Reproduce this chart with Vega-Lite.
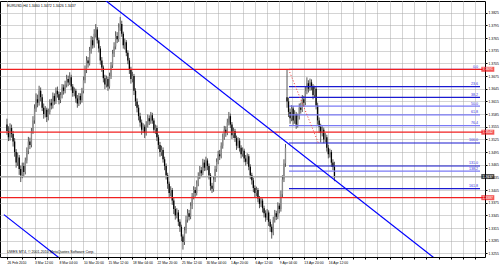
{
"$schema":"https://vega.github.io/schema/vega-lite/v6.json",
"width":485,"height":256,
"autosize":{"type":"none"},
"padding":{"left":0,"top":1,"right":15,"bottom":9},
"background":"white",
"config":{"view":{"stroke":"#000","strokeWidth":1},"font":"Liberation Sans","axis":{"labelOverlap":false,"labelFontSize":3.4,"labelColor":"#000","tickColor":"#000","tickSize":2,"domain":false,"gridDash":[1,1],"gridColor":"#a8a8a8","title":null}},
"resolve":{"axis":{"x":"independent","y":"independent"}},
"datasets":{
"bars":[
{"i":0,"o":1.3560,"h":1.3574,"l":1.3536,"c":1.3545},
{"i":1,"o":1.3545,"h":1.3556,"l":1.3521,"c":1.3530},
{"i":2,"o":1.3530,"h":1.3563,"l":1.3522,"c":1.3552},
{"i":3,"o":1.3552,"h":1.3560,"l":1.3529,"c":1.3538},
{"i":4,"o":1.3538,"h":1.3545,"l":1.3508,"c":1.3520},
{"i":5,"o":1.3520,"h":1.3528,"l":1.3484,"c":1.3495},
{"i":6,"o":1.3495,"h":1.3502,"l":1.3458,"c":1.3470},
{"i":7,"o":1.3470,"h":1.3494,"l":1.3462,"c":1.3482},
{"i":8,"o":1.3482,"h":1.3488,"l":1.3441,"c":1.3455},
{"i":9,"o":1.3455,"h":1.3463,"l":1.3424,"c":1.3440},
{"i":10,"o":1.3440,"h":1.3470,"l":1.3433,"c":1.3462},
{"i":11,"o":1.3462,"h":1.3470,"l":1.3438,"c":1.3448},
{"i":12,"o":1.3448,"h":1.3482,"l":1.3442,"c":1.3475},
{"i":13,"o":1.3475,"h":1.3506,"l":1.3468,"c":1.3498},
{"i":14,"o":1.3498,"h":1.3531,"l":1.3490,"c":1.3520},
{"i":15,"o":1.3520,"h":1.3529,"l":1.3502,"c":1.3512},
{"i":16,"o":1.3512,"h":1.3552,"l":1.3506,"c":1.3545},
{"i":17,"o":1.3545,"h":1.3580,"l":1.3538,"c":1.3570},
{"i":18,"o":1.3570,"h":1.3608,"l":1.3562,"c":1.3598},
{"i":19,"o":1.3598,"h":1.3634,"l":1.3590,"c":1.3620},
{"i":20,"o":1.3620,"h":1.3631,"l":1.3601,"c":1.3612},
{"i":21,"o":1.3612,"h":1.3652,"l":1.3605,"c":1.3640},
{"i":22,"o":1.3640,"h":1.3648,"l":1.3615,"c":1.3625},
{"i":23,"o":1.3625,"h":1.3632,"l":1.3592,"c":1.3600},
{"i":24,"o":1.3600,"h":1.3610,"l":1.3574,"c":1.3585},
{"i":25,"o":1.3585,"h":1.3604,"l":1.3577,"c":1.3595},
{"i":26,"o":1.3595,"h":1.3600,"l":1.3566,"c":1.3578},
{"i":27,"o":1.3578,"h":1.3598,"l":1.3570,"c":1.3590},
{"i":28,"o":1.3590,"h":1.3620,"l":1.3584,"c":1.3612},
{"i":29,"o":1.3612,"h":1.3621,"l":1.3596,"c":1.3605},
{"i":30,"o":1.3605,"h":1.3636,"l":1.3598,"c":1.3628},
{"i":31,"o":1.3628,"h":1.3634,"l":1.3607,"c":1.3615},
{"i":32,"o":1.3615,"h":1.3648,"l":1.3609,"c":1.3640},
{"i":33,"o":1.3640,"h":1.3650,"l":1.3624,"c":1.3632},
{"i":34,"o":1.3632,"h":1.3638,"l":1.3608,"c":1.3618},
{"i":35,"o":1.3618,"h":1.3637,"l":1.3611,"c":1.3630},
{"i":36,"o":1.3630,"h":1.3656,"l":1.3622,"c":1.3648},
{"i":37,"o":1.3648,"h":1.3655,"l":1.3631,"c":1.3640},
{"i":38,"o":1.3640,"h":1.3664,"l":1.3634,"c":1.3655},
{"i":39,"o":1.3655,"h":1.3678,"l":1.3648,"c":1.3668},
{"i":40,"o":1.3668,"h":1.3676,"l":1.3651,"c":1.3660},
{"i":41,"o":1.3660,"h":1.3684,"l":1.3654,"c":1.3672},
{"i":42,"o":1.3672,"h":1.3678,"l":1.3641,"c":1.3650},
{"i":43,"o":1.3650,"h":1.3656,"l":1.3626,"c":1.3635},
{"i":44,"o":1.3635,"h":1.3648,"l":1.3627,"c":1.3640},
{"i":45,"o":1.3640,"h":1.3645,"l":1.3612,"c":1.3622},
{"i":46,"o":1.3622,"h":1.3630,"l":1.3600,"c":1.3610},
{"i":47,"o":1.3610,"h":1.3635,"l":1.3604,"c":1.3628},
{"i":48,"o":1.3628,"h":1.3634,"l":1.3608,"c":1.3618},
{"i":49,"o":1.3618,"h":1.3647,"l":1.3612,"c":1.3640},
{"i":50,"o":1.3640,"h":1.3674,"l":1.3634,"c":1.3665},
{"i":51,"o":1.3665,"h":1.3700,"l":1.3658,"c":1.3690},
{"i":52,"o":1.3690,"h":1.3722,"l":1.3682,"c":1.3712},
{"i":53,"o":1.3712,"h":1.3720,"l":1.3695,"c":1.3705},
{"i":54,"o":1.3705,"h":1.3744,"l":1.3700,"c":1.3735},
{"i":55,"o":1.3735,"h":1.3770,"l":1.3728,"c":1.3760},
{"i":56,"o":1.3760,"h":1.3768,"l":1.3740,"c":1.3748},
{"i":57,"o":1.3748,"h":1.3786,"l":1.3742,"c":1.3775},
{"i":58,"o":1.3775,"h":1.3798,"l":1.3766,"c":1.3785},
{"i":59,"o":1.3785,"h":1.3791,"l":1.3752,"c":1.3760},
{"i":60,"o":1.3760,"h":1.3766,"l":1.3731,"c":1.3740},
{"i":61,"o":1.3740,"h":1.3746,"l":1.3702,"c":1.3712},
{"i":62,"o":1.3712,"h":1.3720,"l":1.3685,"c":1.3695},
{"i":63,"o":1.3695,"h":1.3700,"l":1.3660,"c":1.3670},
{"i":64,"o":1.3670,"h":1.3678,"l":1.3644,"c":1.3655},
{"i":65,"o":1.3655,"h":1.3676,"l":1.3648,"c":1.3668},
{"i":66,"o":1.3668,"h":1.3673,"l":1.3640,"c":1.3650},
{"i":67,"o":1.3650,"h":1.3683,"l":1.3645,"c":1.3675},
{"i":68,"o":1.3675,"h":1.3708,"l":1.3668,"c":1.3700},
{"i":69,"o":1.3700,"h":1.3737,"l":1.3694,"c":1.3728},
{"i":70,"o":1.3728,"h":1.3755,"l":1.3720,"c":1.3745},
{"i":71,"o":1.3745,"h":1.3781,"l":1.3738,"c":1.3770},
{"i":72,"o":1.3770,"h":1.3779,"l":1.3753,"c":1.3762},
{"i":73,"o":1.3762,"h":1.3800,"l":1.3756,"c":1.3790},
{"i":74,"o":1.3790,"h":1.3815,"l":1.3782,"c":1.3798},
{"i":75,"o":1.3798,"h":1.3806,"l":1.3768,"c":1.3775},
{"i":76,"o":1.3775,"h":1.3780,"l":1.3740,"c":1.3748},
{"i":77,"o":1.3748,"h":1.3764,"l":1.3738,"c":1.3755},
{"i":78,"o":1.3755,"h":1.3760,"l":1.3722,"c":1.3730},
{"i":79,"o":1.3730,"h":1.3736,"l":1.3703,"c":1.3712},
{"i":80,"o":1.3712,"h":1.3718,"l":1.3680,"c":1.3690},
{"i":81,"o":1.3690,"h":1.3697,"l":1.3657,"c":1.3668},
{"i":82,"o":1.3668,"h":1.3685,"l":1.3660,"c":1.3675},
{"i":83,"o":1.3675,"h":1.3680,"l":1.3630,"c":1.3640},
{"i":84,"o":1.3640,"h":1.3646,"l":1.3604,"c":1.3615},
{"i":85,"o":1.3615,"h":1.3622,"l":1.3589,"c":1.3600},
{"i":86,"o":1.3600,"h":1.3607,"l":1.3570,"c":1.3580},
{"i":87,"o":1.3580,"h":1.3588,"l":1.3555,"c":1.3565},
{"i":88,"o":1.3565,"h":1.3572,"l":1.3536,"c":1.3548},
{"i":89,"o":1.3548,"h":1.3563,"l":1.3540,"c":1.3555},
{"i":90,"o":1.3555,"h":1.3560,"l":1.3528,"c":1.3540},
{"i":91,"o":1.3540,"h":1.3568,"l":1.3534,"c":1.3560},
{"i":92,"o":1.3560,"h":1.3584,"l":1.3553,"c":1.3575},
{"i":93,"o":1.3575,"h":1.3582,"l":1.3559,"c":1.3568},
{"i":94,"o":1.3568,"h":1.3590,"l":1.3562,"c":1.3582},
{"i":95,"o":1.3582,"h":1.3588,"l":1.3562,"c":1.3570},
{"i":96,"o":1.3570,"h":1.3575,"l":1.3540,"c":1.3548},
{"i":97,"o":1.3548,"h":1.3560,"l":1.3538,"c":1.3552},
{"i":98,"o":1.3552,"h":1.3558,"l":1.3521,"c":1.3530},
{"i":99,"o":1.3530,"h":1.3536,"l":1.3502,"c":1.3512},
{"i":100,"o":1.3512,"h":1.3519,"l":1.3484,"c":1.3495},
{"i":101,"o":1.3495,"h":1.3510,"l":1.3486,"c":1.3500},
{"i":102,"o":1.3500,"h":1.3506,"l":1.3470,"c":1.3478},
{"i":103,"o":1.3478,"h":1.3484,"l":1.3452,"c":1.3462},
{"i":104,"o":1.3462,"h":1.3468,"l":1.3430,"c":1.3440},
{"i":105,"o":1.3440,"h":1.3446,"l":1.3408,"c":1.3420},
{"i":106,"o":1.3420,"h":1.3425,"l":1.3388,"c":1.3398},
{"i":107,"o":1.3398,"h":1.3414,"l":1.3390,"c":1.3405},
{"i":108,"o":1.3405,"h":1.3410,"l":1.3370,"c":1.3380},
{"i":109,"o":1.3380,"h":1.3386,"l":1.3348,"c":1.3360},
{"i":110,"o":1.3360,"h":1.3367,"l":1.3335,"c":1.3345},
{"i":111,"o":1.3345,"h":1.3362,"l":1.3338,"c":1.3352},
{"i":112,"o":1.3352,"h":1.3358,"l":1.3320,"c":1.3330},
{"i":113,"o":1.3330,"h":1.3336,"l":1.3306,"c":1.3318},
{"i":114,"o":1.3318,"h":1.3323,"l":1.3284,"c":1.3295},
{"i":115,"o":1.3295,"h":1.3300,"l":1.3264,"c":1.3282},
{"i":116,"o":1.3282,"h":1.3318,"l":1.3275,"c":1.3310},
{"i":117,"o":1.3310,"h":1.3344,"l":1.3302,"c":1.3335},
{"i":118,"o":1.3335,"h":1.3360,"l":1.3328,"c":1.3350},
{"i":119,"o":1.3350,"h":1.3358,"l":1.3333,"c":1.3342},
{"i":120,"o":1.3342,"h":1.3376,"l":1.3336,"c":1.3368},
{"i":121,"o":1.3368,"h":1.3398,"l":1.3360,"c":1.3390},
{"i":122,"o":1.3390,"h":1.3414,"l":1.3383,"c":1.3405},
{"i":123,"o":1.3405,"h":1.3412,"l":1.3389,"c":1.3398},
{"i":124,"o":1.3398,"h":1.3428,"l":1.3392,"c":1.3420},
{"i":125,"o":1.3420,"h":1.3447,"l":1.3414,"c":1.3438},
{"i":126,"o":1.3438,"h":1.3462,"l":1.3431,"c":1.3452},
{"i":127,"o":1.3452,"h":1.3460,"l":1.3436,"c":1.3445},
{"i":128,"o":1.3445,"h":1.3479,"l":1.3440,"c":1.3470},
{"i":129,"o":1.3470,"h":1.3477,"l":1.3450,"c":1.3458},
{"i":130,"o":1.3458,"h":1.3484,"l":1.3451,"c":1.3475},
{"i":131,"o":1.3475,"h":1.3480,"l":1.3452,"c":1.3462},
{"i":132,"o":1.3462,"h":1.3468,"l":1.3430,"c":1.3440},
{"i":133,"o":1.3440,"h":1.3445,"l":1.3404,"c":1.3415},
{"i":134,"o":1.3415,"h":1.3422,"l":1.3398,"c":1.3408},
{"i":135,"o":1.3408,"h":1.3437,"l":1.3401,"c":1.3430},
{"i":136,"o":1.3430,"h":1.3462,"l":1.3424,"c":1.3455},
{"i":137,"o":1.3455,"h":1.3480,"l":1.3448,"c":1.3472},
{"i":138,"o":1.3472,"h":1.3498,"l":1.3466,"c":1.3490},
{"i":139,"o":1.3490,"h":1.3500,"l":1.3476,"c":1.3485},
{"i":140,"o":1.3485,"h":1.3518,"l":1.3480,"c":1.3510},
{"i":141,"o":1.3510,"h":1.3539,"l":1.3503,"c":1.3530},
{"i":142,"o":1.3530,"h":1.3557,"l":1.3524,"c":1.3548},
{"i":143,"o":1.3548,"h":1.3556,"l":1.3531,"c":1.3540},
{"i":144,"o":1.3540,"h":1.3574,"l":1.3535,"c":1.3565},
{"i":145,"o":1.3565,"h":1.3590,"l":1.3558,"c":1.3580},
{"i":146,"o":1.3580,"h":1.3586,"l":1.3552,"c":1.3560},
{"i":147,"o":1.3560,"h":1.3566,"l":1.3526,"c":1.3535},
{"i":148,"o":1.3535,"h":1.3553,"l":1.3528,"c":1.3545},
{"i":149,"o":1.3545,"h":1.3550,"l":1.3519,"c":1.3528},
{"i":150,"o":1.3528,"h":1.3534,"l":1.3500,"c":1.3510},
{"i":151,"o":1.3510,"h":1.3530,"l":1.3504,"c":1.3522},
{"i":152,"o":1.3522,"h":1.3528,"l":1.3496,"c":1.3505},
{"i":153,"o":1.3505,"h":1.3511,"l":1.3480,"c":1.3490},
{"i":154,"o":1.3490,"h":1.3506,"l":1.3484,"c":1.3498},
{"i":155,"o":1.3498,"h":1.3503,"l":1.3471,"c":1.3480},
{"i":156,"o":1.3480,"h":1.3488,"l":1.3463,"c":1.3472},
{"i":157,"o":1.3472,"h":1.3492,"l":1.3466,"c":1.3485},
{"i":158,"o":1.3485,"h":1.3490,"l":1.3452,"c":1.3460},
{"i":159,"o":1.3460,"h":1.3466,"l":1.3431,"c":1.3440},
{"i":160,"o":1.3440,"h":1.3446,"l":1.3418,"c":1.3428},
{"i":161,"o":1.3428,"h":1.3434,"l":1.3400,"c":1.3410},
{"i":162,"o":1.3410,"h":1.3416,"l":1.3388,"c":1.3398},
{"i":163,"o":1.3398,"h":1.3413,"l":1.3390,"c":1.3405},
{"i":164,"o":1.3405,"h":1.3410,"l":1.3376,"c":1.3385},
{"i":165,"o":1.3385,"h":1.3391,"l":1.3362,"c":1.3372},
{"i":166,"o":1.3372,"h":1.3388,"l":1.3365,"c":1.3380},
{"i":167,"o":1.3380,"h":1.3385,"l":1.3352,"c":1.3362},
{"i":168,"o":1.3362,"h":1.3368,"l":1.3340,"c":1.3350},
{"i":169,"o":1.3350,"h":1.3357,"l":1.3330,"c":1.3340},
{"i":170,"o":1.3340,"h":1.3360,"l":1.3334,"c":1.3352},
{"i":171,"o":1.3352,"h":1.3357,"l":1.3320,"c":1.3330},
{"i":172,"o":1.3330,"h":1.3336,"l":1.3306,"c":1.3318},
{"i":173,"o":1.3318,"h":1.3324,"l":1.3290,"c":1.3305},
{"i":174,"o":1.3305,"h":1.3342,"l":1.3298,"c":1.3335},
{"i":175,"o":1.3335,"h":1.3358,"l":1.3328,"c":1.3350},
{"i":176,"o":1.3350,"h":1.3356,"l":1.3334,"c":1.3342},
{"i":177,"o":1.3342,"h":1.3376,"l":1.3336,"c":1.3368},
{"i":178,"o":1.3368,"h":1.3374,"l":1.3350,"c":1.3360},
{"i":179,"o":1.3360,"h":1.3404,"l":1.3354,"c":1.3395},
{"i":180,"o":1.3395,"h":1.3440,"l":1.3388,"c":1.3430},
{"i":181,"o":1.3430,"h":1.3478,"l":1.3424,"c":1.3468},
{"i":182,"o":1.3468,"h":1.3514,"l":1.3460,"c":1.3505},
{"i":183,"o":1.3625,"h":1.3691,"l":1.3600,"c":1.3615},
{"i":184,"o":1.3615,"h":1.3624,"l":1.3578,"c":1.3590},
{"i":185,"o":1.3590,"h":1.3598,"l":1.3562,"c":1.3575},
{"i":186,"o":1.3575,"h":1.3606,"l":1.3568,"c":1.3598},
{"i":187,"o":1.3598,"h":1.3604,"l":1.3560,"c":1.3570},
{"i":188,"o":1.3570,"h":1.3594,"l":1.3562,"c":1.3585},
{"i":189,"o":1.3585,"h":1.3590,"l":1.3550,"c":1.3560},
{"i":190,"o":1.3560,"h":1.3586,"l":1.3553,"c":1.3578},
{"i":191,"o":1.3578,"h":1.3610,"l":1.3572,"c":1.3600},
{"i":192,"o":1.3600,"h":1.3612,"l":1.3586,"c":1.3595},
{"i":193,"o":1.3595,"h":1.3630,"l":1.3590,"c":1.3620},
{"i":194,"o":1.3620,"h":1.3628,"l":1.3603,"c":1.3612},
{"i":195,"o":1.3612,"h":1.3650,"l":1.3606,"c":1.3640},
{"i":196,"o":1.3640,"h":1.3672,"l":1.3632,"c":1.3658},
{"i":197,"o":1.3658,"h":1.3665,"l":1.3636,"c":1.3645},
{"i":198,"o":1.3645,"h":1.3669,"l":1.3640,"c":1.3660},
{"i":199,"o":1.3660,"h":1.3667,"l":1.3641,"c":1.3650},
{"i":200,"o":1.3650,"h":1.3656,"l":1.3620,"c":1.3630},
{"i":201,"o":1.3630,"h":1.3652,"l":1.3624,"c":1.3645},
{"i":202,"o":1.3645,"h":1.3650,"l":1.3596,"c":1.3605},
{"i":203,"o":1.3605,"h":1.3612,"l":1.3560,"c":1.3570},
{"i":204,"o":1.3570,"h":1.3577,"l":1.3540,"c":1.3555},
{"i":205,"o":1.3555,"h":1.3562,"l":1.3518,"c":1.3540},
{"i":206,"o":1.3540,"h":1.3556,"l":1.3532,"c":1.3548},
{"i":207,"o":1.3548,"h":1.3553,"l":1.3516,"c":1.3525},
{"i":208,"o":1.3525,"h":1.3540,"l":1.3518,"c":1.3530},
{"i":209,"o":1.3530,"h":1.3536,"l":1.3496,"c":1.3505},
{"i":210,"o":1.3505,"h":1.3512,"l":1.3480,"c":1.3490},
{"i":211,"o":1.3490,"h":1.3503,"l":1.3482,"c":1.3495},
{"i":212,"o":1.3495,"h":1.3500,"l":1.3460,"c":1.3470},
{"i":213,"o":1.3470,"h":1.3478,"l":1.3452,"c":1.3460},
{"i":214,"o":1.3460,"h":1.3472,"l":1.3426,"c":1.3437}
],
"hl":[{"p":1.3691,"k":"red"},{"p":1.3542,"k":"red"},{"p":1.3387,"k":"red"},{"p":1.3437,"k":"bid"}],
"fib":[
{"lv":"0.0","p":1.3691,"k":"light"},
{"lv":"23.6","p":1.36498,"k":"dark"},
{"lv":"38.2","p":1.36243,"k":"dark"},
{"lv":"50.0","p":1.36038,"k":"light"},
{"lv":"61.8","p":1.35832,"k":"light"},
{"lv":"76.4","p":1.35577,"k":"light"},
{"lv":"100.0","p":1.35165,"k":"dark"},
{"lv":"131.0","p":1.3462,"k":"dark"},
{"lv":"138.2","p":1.34498,"k":"light"},
{"lv":"161.8","p":1.34086,"k":"dark"}
],
"tl":[{"id":"a","i":60,"p":1.38665},{"id":"a","i":290,"p":1.32135},{"id":"b","i":-2,"p":1.33469},{"id":"b","i":40,"p":1.32277}],
"fd":[{"i":184,"p":1.3691},{"i":203.5,"p":1.35165}]
},
"layer":[
{"data":{"name":"bars"},"mark":{"type":"rule","color":"#555","strokeWidth":1},
 "encoding":{
  "x":{"field":"i","type":"quantitative","scale":{"domain":[-1.28,309.1],"nice":false,"zero":false},
   "axis":{"values":[0,10,18,26,34,42,50,58,66,74,82,90,98,106,114,122,130,138,146,154,162,170,178,186,194,202,210,218,226,234,242,250,258,266,274,282,290,298,306],"grid":true,"labelOverlap":false,"labelAlign":"left","labelPadding":1.5,"labelFlush":false,
    "labelExpr":"indexof([0,18,34,50,66,82,98,114,130,146,162,178,194,210], datum.value) < 0 ? '' : ['26 Feb 2010','3 Mar 12:00','8 Mar 04:00','10 Mar 20:00','15 Mar 12:00','18 Mar 04:00','22 Mar 20:00','25 Mar 12:00','30 Mar 04:00','1 Apr 20:00','6 Apr 12:00','9 Apr 04:00','13 Apr 20:00','16 Apr 12:00'][indexof([0,18,34,50,66,82,98,114,130,146,162,178,194,210], datum.value)]"}},
  "y":{"field":"l","type":"quantitative","scale":{"domain":[1.32465,1.38527],"nice":false,"zero":false},
   "axis":{"orient":"right","values":[1.3255,1.3285,1.3315,1.3345,1.3375,1.3405,1.3435,1.3465,1.3495,1.3525,1.3555,1.3585,1.3615,1.3645,1.3675,1.3705,1.3735,1.3765,1.3795,1.3825],"format":".4f","grid":true,"labelOverlap":false,"labelPadding":1}},
  "y2":{"field":"h"}}},
{"data":{"name":"bars"},"mark":{"type":"bar","width":1.3},
 "encoding":{
  "x":{"field":"i","type":"quantitative","axis":null},
  "y":{"field":"o","type":"quantitative","axis":null},
  "y2":{"field":"c"},
  "color":{"condition":{"test":"datum.c >= datum.o","value":"#8a8a8a"},"value":"#000000"}}},
{"data":{"name":"hl"},"transform":[{"filter":"datum.k == 'bid'"}],"mark":{"type":"rule","color":"#a8a8a8","strokeWidth":1},
 "encoding":{"y":{"field":"p","type":"quantitative","axis":null}}},
{"data":{"name":"fib"},"mark":{"type":"rule","strokeWidth":1.2},
 "encoding":{
  "x":{"datum":184.3,"type":"quantitative","axis":null},
  "x2":{"datum":309.1},
  "y":{"field":"p","type":"quantitative","axis":null},
  "color":{"condition":{"test":"datum.k == 'light'","value":"#7a7af5"},"value":"#1a1ad0"}}},
{"data":{"name":"fib"},"mark":{"type":"text","align":"right","baseline":"bottom","dy":-0.5,"fontSize":3.6,"color":"#3030e0"},
 "encoding":{
  "x":{"datum":307.8,"type":"quantitative","axis":null},
  "y":{"field":"p","type":"quantitative","axis":null},
  "text":{"field":"lv"}}},
{"data":{"name":"hl"},"transform":[{"filter":"datum.k == 'red'"}],"mark":{"type":"rule","color":"#f02020","strokeWidth":1.2},
 "encoding":{"y":{"field":"p","type":"quantitative","axis":null}}},
{"data":{"name":"fd"},"mark":{"type":"line","color":"#f03030","strokeWidth":1,"strokeDash":[1,2]},
 "encoding":{
  "x":{"field":"i","type":"quantitative","axis":null},
  "y":{"field":"p","type":"quantitative","axis":null}}},
{"data":{"name":"tl"},"mark":{"type":"line","color":"#0000ff","strokeWidth":1.2,"clip":true},
 "encoding":{
  "x":{"field":"i","type":"quantitative","axis":null},
  "y":{"field":"p","type":"quantitative","axis":null},
  "detail":{"field":"id"}}},
{"data":{"name":"hl"},"mark":{"type":"tick","orient":"horizontal","size":13,"thickness":5},
 "encoding":{
  "x":{"datum":314.2,"type":"quantitative","axis":null},
  "y":{"field":"p","type":"quantitative","axis":null},
  "color":{"condition":{"test":"datum.k == 'bid'","value":"#000000"},"value":"#f01010"}}},
{"data":{"name":"hl"},"mark":{"type":"text","align":"center","baseline":"middle","fontSize":3.4,"color":"#ffffff"},
 "encoding":{
  "x":{"datum":314.2,"type":"quantitative","axis":null},
  "y":{"field":"p","type":"quantitative","axis":null},
  "text":{"field":"p","format":".4f"}}},
{"data":{"values":[{"t":"EURUSD,H4  1.3460 1.3472 1.3426 1.3437","p":1.3840},{"t":"UWES MT4, © 2001-2010 MetaQuotes Software Corp.","p":1.32584}]},
 "mark":{"type":"text","align":"left","baseline":"middle","fontSize":3.6,"color":"#000"},
 "encoding":{
  "x":{"datum":0,"type":"quantitative","axis":null},
  "y":{"field":"p","type":"quantitative","axis":null},
  "text":{"field":"t"}}}
]
}
